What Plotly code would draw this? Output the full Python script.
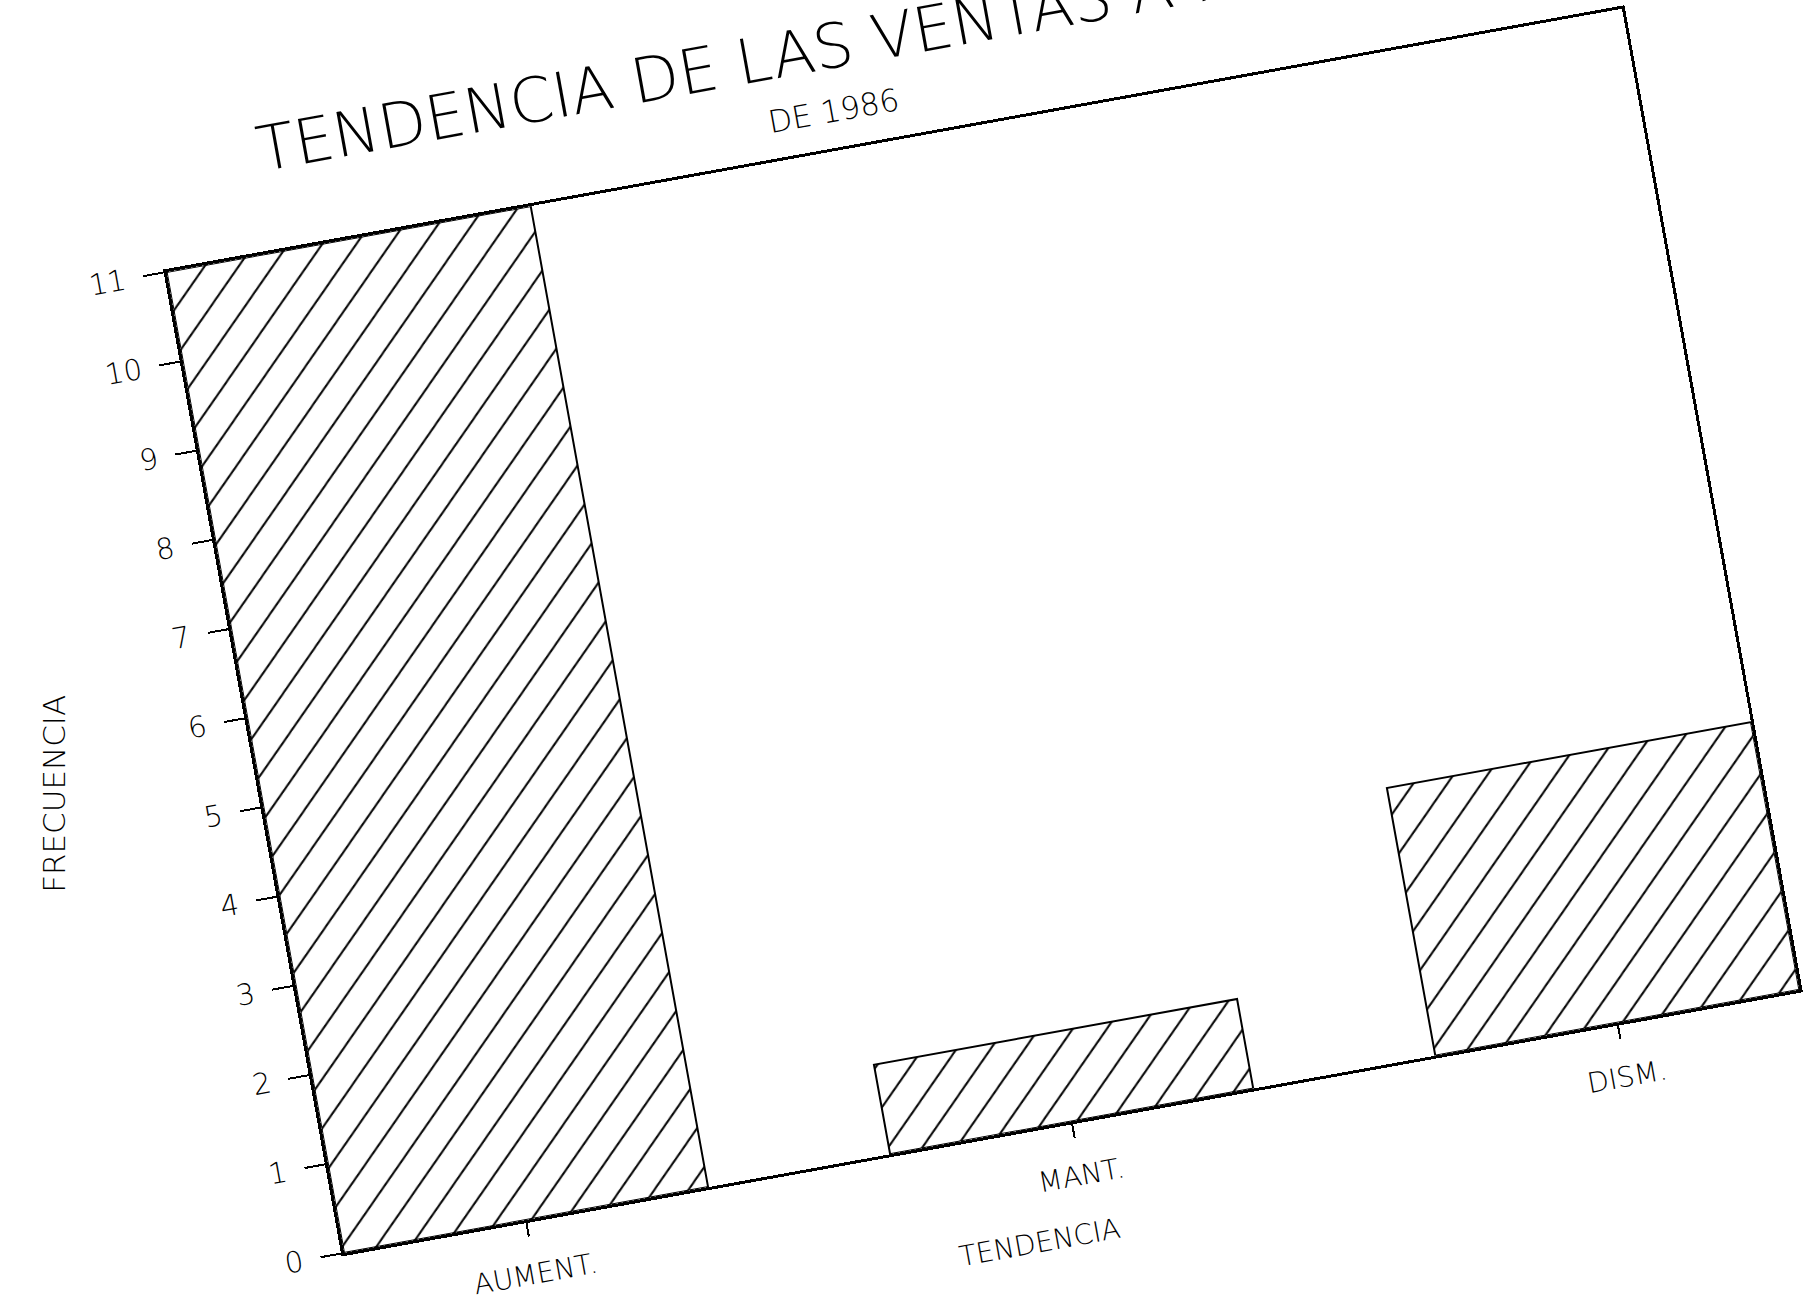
import plotly.graph_objects as go

# ---- data ----
categories = ["AUMENT.", "MANT.", "DISM."]
frecuencia = [11, 1, 3]
y_ticks = list(range(0, 12))

title_text = "TENDENCIA DE LAS VENTAS A PARTIR"
subtitle_text = "DE 1986"
x_title = "TENDENCIA"
y_title = "FRECUENCIA"

# ---- geometry (unrotated frame) ----
ANGLE = 10.25          # tilt of the scanned page (degrees, counter-clockwise)
L, B = 344, 1253       # bottom-left of the plot area on the page
W, H = 1479, 997
FIG_W, FIG_H = 1923, 1400
MT = FIG_H - (FIG_H - B) - H
MB = FIG_H - B
MR = FIG_W - L - W

FONT = dict(family="DejaVu Sans, Liberation Sans, sans-serif", color="black", weight=200)

fig = go.Figure()
fig.add_trace(go.Bar(
    x=categories, y=frecuencia, width=2/3,
    marker=dict(
        color="white",
        line=dict(color="black", width=2),
        pattern=dict(shape="/", fgcolor="black", bgcolor="white",
                     size=28, solidity=0.07, fillmode="replace"),
    ),
    showlegend=False,
))

axis_common = dict(showline=True, linecolor="black", linewidth=2.5, mirror=True,
                   showgrid=False, zeroline=False, ticks="outside",
                   tickcolor="black", tickwidth=2)

fig.update_xaxes(type="category", categoryorder="array", categoryarray=categories,
                 range=[-1/3, 7/3], ticklen=14, ticklabelstandoff=14,
                 tickfont=dict(size=28, **FONT), **axis_common)
fig.update_yaxes(range=[0, 11], tickvals=y_ticks, ticklen=21, ticklabelstandoff=12,
                 tickfont=dict(size=29, **FONT), **axis_common)

fig.add_annotation(text=title_text, xref="paper", yref="paper",
                   x=109 / W, y=1, yshift=104, xanchor="left", yanchor="middle",
                   showarrow=False, font=dict(size=62, **FONT))
fig.add_annotation(text=subtitle_text, xref="paper", yref="paper",
                   x=617 / W, y=1, yshift=40, xanchor="left", yanchor="middle",
                   showarrow=False, font=dict(size=31, **FONT))
fig.add_annotation(text=x_title, xref="paper", yref="paper",
                   x=686 / W, y=0, yshift=-113, xanchor="center", yanchor="middle",
                   showarrow=False, font=dict(size=28, **FONT))
fig.add_annotation(text=y_title, xref="paper", yref="paper",
                   x=0, xshift=-204, y=0.505, xanchor="center", yanchor="middle",
                   textangle=-90 + ANGLE,
                   showarrow=False, font=dict(size=31, **FONT))

fig.update_layout(width=FIG_W, height=FIG_H, autosize=False,
                  margin=dict(l=L, r=MR, t=MT, b=MB, pad=0),
                  paper_bgcolor="white", plot_bgcolor="white",
                  bargap=0)

post = f"""
var gd = document.getElementById('{{plot_id}}');
document.documentElement.style.overflow = 'hidden';
document.body.style.margin = '0';
document.body.style.overflow = 'hidden';
document.body.style.background = 'white';
gd.style.transformOrigin = '{L}px {B}px';
gd.style.transform = 'rotate(-{ANGLE}deg)';
"""
fig.write_html("out.html", post_script=post)
